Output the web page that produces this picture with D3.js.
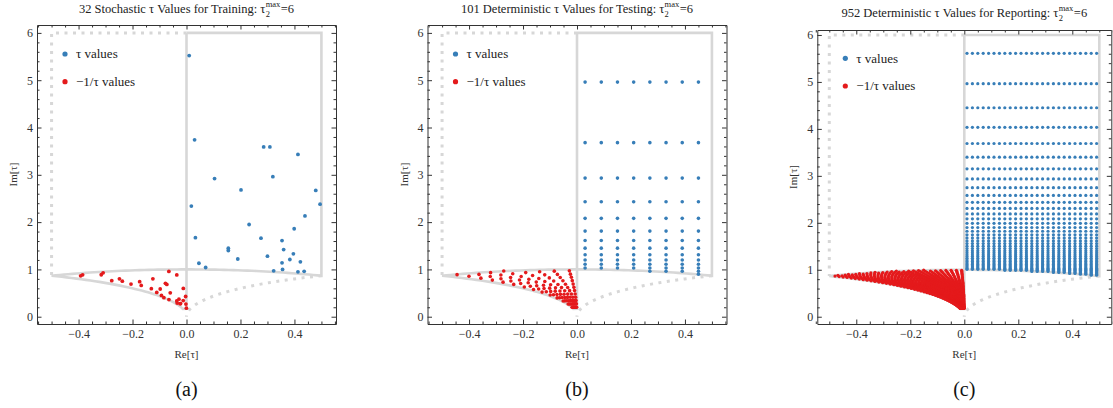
<!DOCTYPE html>
<meta charset="utf-8" />
<script src="https://d3js.org/d3.v7.min.js"></script>
<style>
	body { margin: 0; background: #fff; }
	svg text { font-family: "Liberation Serif", "Times New Roman", serif; }
</style>
<div id="chart"></div>
<script>
	// ---- values ----
	// (a) 32 stochastic tau values
	var trainRe = [0.010, 0.030, 0.286, 0.309, 0.413, 0.104, 0.320, 0.202, 0.479, 0.495, 0.018,
		0.439, 0.232, 0.399, 0.033, 0.276, 0.354, 0.155, 0.155, 0.360, 0.396, 0.190, 0.300,
		0.046, 0.383, 0.354, 0.422, 0.071, 0.323, 0.356, 0.413, 0.436];
	var trainIm = [5.52, 3.74, 3.59, 3.59, 3.43, 2.92, 2.96, 2.68, 2.67, 2.38, 2.34,
		2.13, 1.95, 1.86, 1.67, 1.66, 1.61, 1.45, 1.40, 1.42, 1.33, 1.22, 1.28,
		1.13, 1.21, 1.14, 1.16, 1.04, 0.97, 1.00, 0.95, 0.96];

	// (b) 101 deterministic tau values: columns x rows
	var testRe = [0.03, 0.09, 0.15, 0.21, 0.27, 0.33, 0.39, 0.45];
	var testIm = [4.96, 3.68, 2.93, 2.43, 2.08, 1.81, 1.61, 1.45, 1.31, 1.20, 1.11, 1.03, 0.96, 0.90];
	var testRowsPerColumn = [12, 12, 12, 12, 13, 13, 13, 14];

	// (c) 952 deterministic tau values
	var reportRe = [0.01, 0.03, 0.05, 0.07, 0.09, 0.11, 0.13, 0.15, 0.17, 0.19, 0.21, 0.23, 0.25,
		0.27, 0.29, 0.31, 0.33, 0.35, 0.37, 0.39, 0.41, 0.43, 0.45, 0.47, 0.49];
	var reportIm = [5.609, 4.963, 4.450, 4.034, 3.689, 3.398, 3.150, 2.935, 2.748, 2.583,
		2.437, 2.307, 2.190, 2.084, 1.988, 1.900, 1.820, 1.746, 1.678, 1.615,
		1.557, 1.503, 1.452, 1.405, 1.360, 1.319, 1.280, 1.243, 1.208, 1.175,
		1.144, 1.114, 1.086, 1.059, 1.034, 1.010, 0.987, 0.965, 0.943, 0.923,
		0.904, 0.885];
	var reportRowsPerColumn = [36, 36, 36, 36, 36, 36, 36, 37, 37, 37, 37, 37, 38,
		38, 38, 38, 39, 39, 39, 40, 40, 41, 41, 42, 42];

	var xTicks = [-0.4, -0.2, 0, 0.2, 0.4];
	var yTicks = [0, 1, 2, 3, 4, 5, 6];
	var titleLeads = ["32 Stochastic τ Values for Training: ",
		"101 Deterministic τ Values for Testing: ",
		"952 Deterministic τ Values for Reporting: "];
	var captions = ["(a)", "(b)", "(c)"];
	var legendLabels = ["τ values", "−1/τ values"];
	var blue = "#377eb8", red = "#e41a1c", gray = "#d7d7d7";

	// ---- build tau lists and their -1/tau images ----
	function grid(res, ims, rows) {
		var out = [];
		res.forEach(function (re, i) {
			for (var k = 0; k < rows[i]; k++) out.push([re, ims[k]]);
		});
		return out;
	}
	function invert(t) {
		var d = t[0] * t[0] + t[1] * t[1];
		return [-t[0] / d, t[1] / d];
	}
	var tauSets = [
		trainRe.map(function (re, i) { return [re, trainIm[i]]; }),
		grid(testRe, testIm, testRowsPerColumn),
		grid(reportRe, reportIm, reportRowsPerColumn)
	];

	// panel layout
	var panels = [
		{ left: 37, width: 299, top: 25, bottom: 324, xDom: [-0.554, 0.554], yDom: [-0.154, 6.167], titleY: 12.7, legY: [54, 81.7], r: 1.9 },
		{ left: 427.5, width: 299, top: 25, bottom: 324, xDom: [-0.554, 0.554], yDom: [-0.154, 6.167], titleY: 12.7, legY: [54, 81.7], r: 1.8 },
		{ left: 817.3, width: 294, top: 30, bottom: 324, xDom: [-0.5444, 0.5444], yDom: [-0.155, 6.106], titleY: 16.7, legY: [58.3, 86], r: 1.6 }
	];

	var svg = d3.select("#chart").append("svg")
		.attr("width", 1113)
		.attr("height", 408);

	var deg = Math.PI / 180;
	function arc(cx, a0, a1, n) {
		return d3.range(n + 1).map(function (i) {
			var a = (a0 + (a1 - a0) * i / n) * deg;
			return [cx + Math.cos(a), Math.sin(a)];
		});
	}

	panels.forEach(function (p, pi) {
		var x = d3.scaleLinear().domain(p.xDom).range([p.left, p.left + p.width]);
		var y = d3.scaleLinear().domain(p.yDom).range([p.bottom, p.top]);
		var g = svg.append("g");
		var line = d3.line().x(function (d) { return x(d[0]); }).y(function (d) { return y(d[1]); });

		// fundamental domain outline (solid) and its mirror (dotted)
		var yTop = 6, s3 = Math.sqrt(3) / 2;
		var solid = [[0, yTop], [0.5, yTop], [0.5, s3]]
			.concat(arc(0, 60, 120, 60))
			.concat(arc(-1, 60, 9.53, 40))
			.concat([[0, 1 / yTop], [0, yTop]]);
		g.append("path").attr("d", line(solid))
			.attr("fill", "none").attr("stroke", gray).attr("stroke-width", 2.6)
			.attr("stroke-linejoin", "miter");
		var dotted1 = [[0, yTop], [-0.5, yTop], [-0.5, s3]];
		var dotted2 = arc(1, 120, 180, 60);
		[dotted1, dotted2].forEach(function (pts) {
			g.append("path").attr("d", line(pts))
				.attr("fill", "none").attr("stroke", gray).attr("stroke-width", 3)
				.attr("stroke-dasharray", "3,5.5");
		});

		// points
		var taus = tauSets[pi];
		g.append("g").selectAll("circle").data(taus).join("circle")
			.attr("cx", function (d) { return x(d[0]); })
			.attr("cy", function (d) { return y(d[1]); })
			.attr("r", p.r).attr("fill", blue);
		g.append("g").selectAll("circle").data(taus.map(invert)).join("circle")
			.attr("cx", function (d) { return x(d[0]); })
			.attr("cy", function (d) { return y(d[1]); })
			.attr("r", p.r).attr("fill", red);

		// frame with inward ticks on all sides
		var fmtX = function (d) { return d3.format(".1f")(d).replace("-", "\u2212"); };
		var xMinor = d3.range(-0.55, 0.551, 0.05).filter(function (v) {
			return Math.abs(Math.round(v * 10) - v * 10) > 1e-6 || Math.round(v * 10) % 2 !== 0;
		});
		var yMinor = d3.range(0, 6.2, 0.2).filter(function (v) {
			return Math.abs(v - Math.round(v)) > 1e-6;
		});
		function style(a) {
			a.selectAll("text").attr("font-size", 12).attr("fill", "#333")
				.style("font-family", "'Liberation Serif', serif");
			a.selectAll("line").attr("stroke", "#333");
			a.select(".domain").attr("stroke", "#333");
		}
		function minor(a) {
			a.select(".domain").remove();
			a.selectAll("line").attr("stroke", "#333");
		}
		g.append("g").attr("transform", "translate(0," + p.bottom + ")")
			.call(d3.axisBottom(x).tickValues(xTicks).tickFormat(fmtX).tickSizeInner(-4.5).tickSizeOuter(0).tickPadding(5))
			.call(style);
		g.append("g").attr("transform", "translate(0," + p.bottom + ")")
			.call(d3.axisBottom(x).tickValues(xMinor).tickFormat("").tickSize(-2.5)).call(minor);
		g.append("g").attr("transform", "translate(0," + p.top + ")")
			.call(d3.axisTop(x).tickValues(xTicks).tickFormat("").tickSizeInner(-4.5).tickSizeOuter(0))
			.call(style);
		g.append("g").attr("transform", "translate(0," + p.top + ")")
			.call(d3.axisTop(x).tickValues(xMinor).tickFormat("").tickSize(-2.5)).call(minor);
		g.append("g").attr("transform", "translate(" + p.left + ",0)")
			.call(d3.axisLeft(y).tickValues(yTicks).tickFormat(d3.format("d")).tickSizeInner(-4.5).tickSizeOuter(0).tickPadding(4))
			.call(style);
		g.append("g").attr("transform", "translate(" + p.left + ",0)")
			.call(d3.axisLeft(y).tickValues(yMinor).tickFormat("").tickSize(-2.5)).call(minor);
		g.append("g").attr("transform", "translate(" + (p.left + p.width) + ",0)")
			.call(d3.axisRight(y).tickValues(yTicks).tickFormat("").tickSizeInner(-4.5).tickSizeOuter(0))
			.call(style);
		g.append("g").attr("transform", "translate(" + (p.left + p.width) + ",0)")
			.call(d3.axisRight(y).tickValues(yMinor).tickFormat("").tickSize(-2.5)).call(minor);

		// axis labels
		var cx = x(0);
		g.append("text").attr("x", cx).attr("y", 357.7)
			.attr("text-anchor", "middle").attr("font-size", 11).attr("fill", "#333")
			.text("Re[τ]");
		g.append("text")
			.attr("transform", "translate(" + (p.left - 20) + "," + ((p.top + p.bottom) / 2) + ") rotate(-90)")
			.attr("text-anchor", "middle").attr("font-size", 11).attr("fill", "#333")
			.text("Im[τ]");

		// caption
		g.append("text").attr("x", cx).attr("y", 395.5)
			.attr("text-anchor", "middle").attr("font-size", 20).attr("fill", "#111")
			.text(captions[pi]);

		// title with stacked sub/superscript
		var t = g.append("g");
		var main = t.append("text").attr("y", p.titleY).attr("font-size", 12.5).attr("fill", "#222")
			.text(titleLeads[pi] + "τ");
		var w = main.node().getComputedTextLength();
		t.append("text").attr("x", w + 0.3).attr("y", p.titleY + 4).attr("font-size", 8.5).attr("fill", "#222").text("2");
		var sup = t.append("text").attr("x", w + 0.3).attr("y", p.titleY - 5.3).attr("font-size", 8.5).attr("fill", "#222").text("max");
		var ws = sup.node().getComputedTextLength();
		var tail = t.append("text").attr("x", w + ws + 0.8).attr("y", p.titleY).attr("font-size", 12.5).attr("fill", "#222").text("=6");
		var total = w + ws + 0.8 + tail.node().getComputedTextLength();
		t.attr("transform", "translate(" + (cx - total / 2) + ",0)");

		// legend
		[blue, red].forEach(function (c, i) {
			g.append("circle").attr("cx", p.left + 28).attr("cy", p.legY[i]).attr("r", 2.6).attr("fill", c);
			g.append("text").attr("x", p.left + 39).attr("y", p.legY[i] + 4.3)
				.attr("font-size", 13).attr("fill", "#222").text(legendLabels[i]);
		});
	});
</script>
